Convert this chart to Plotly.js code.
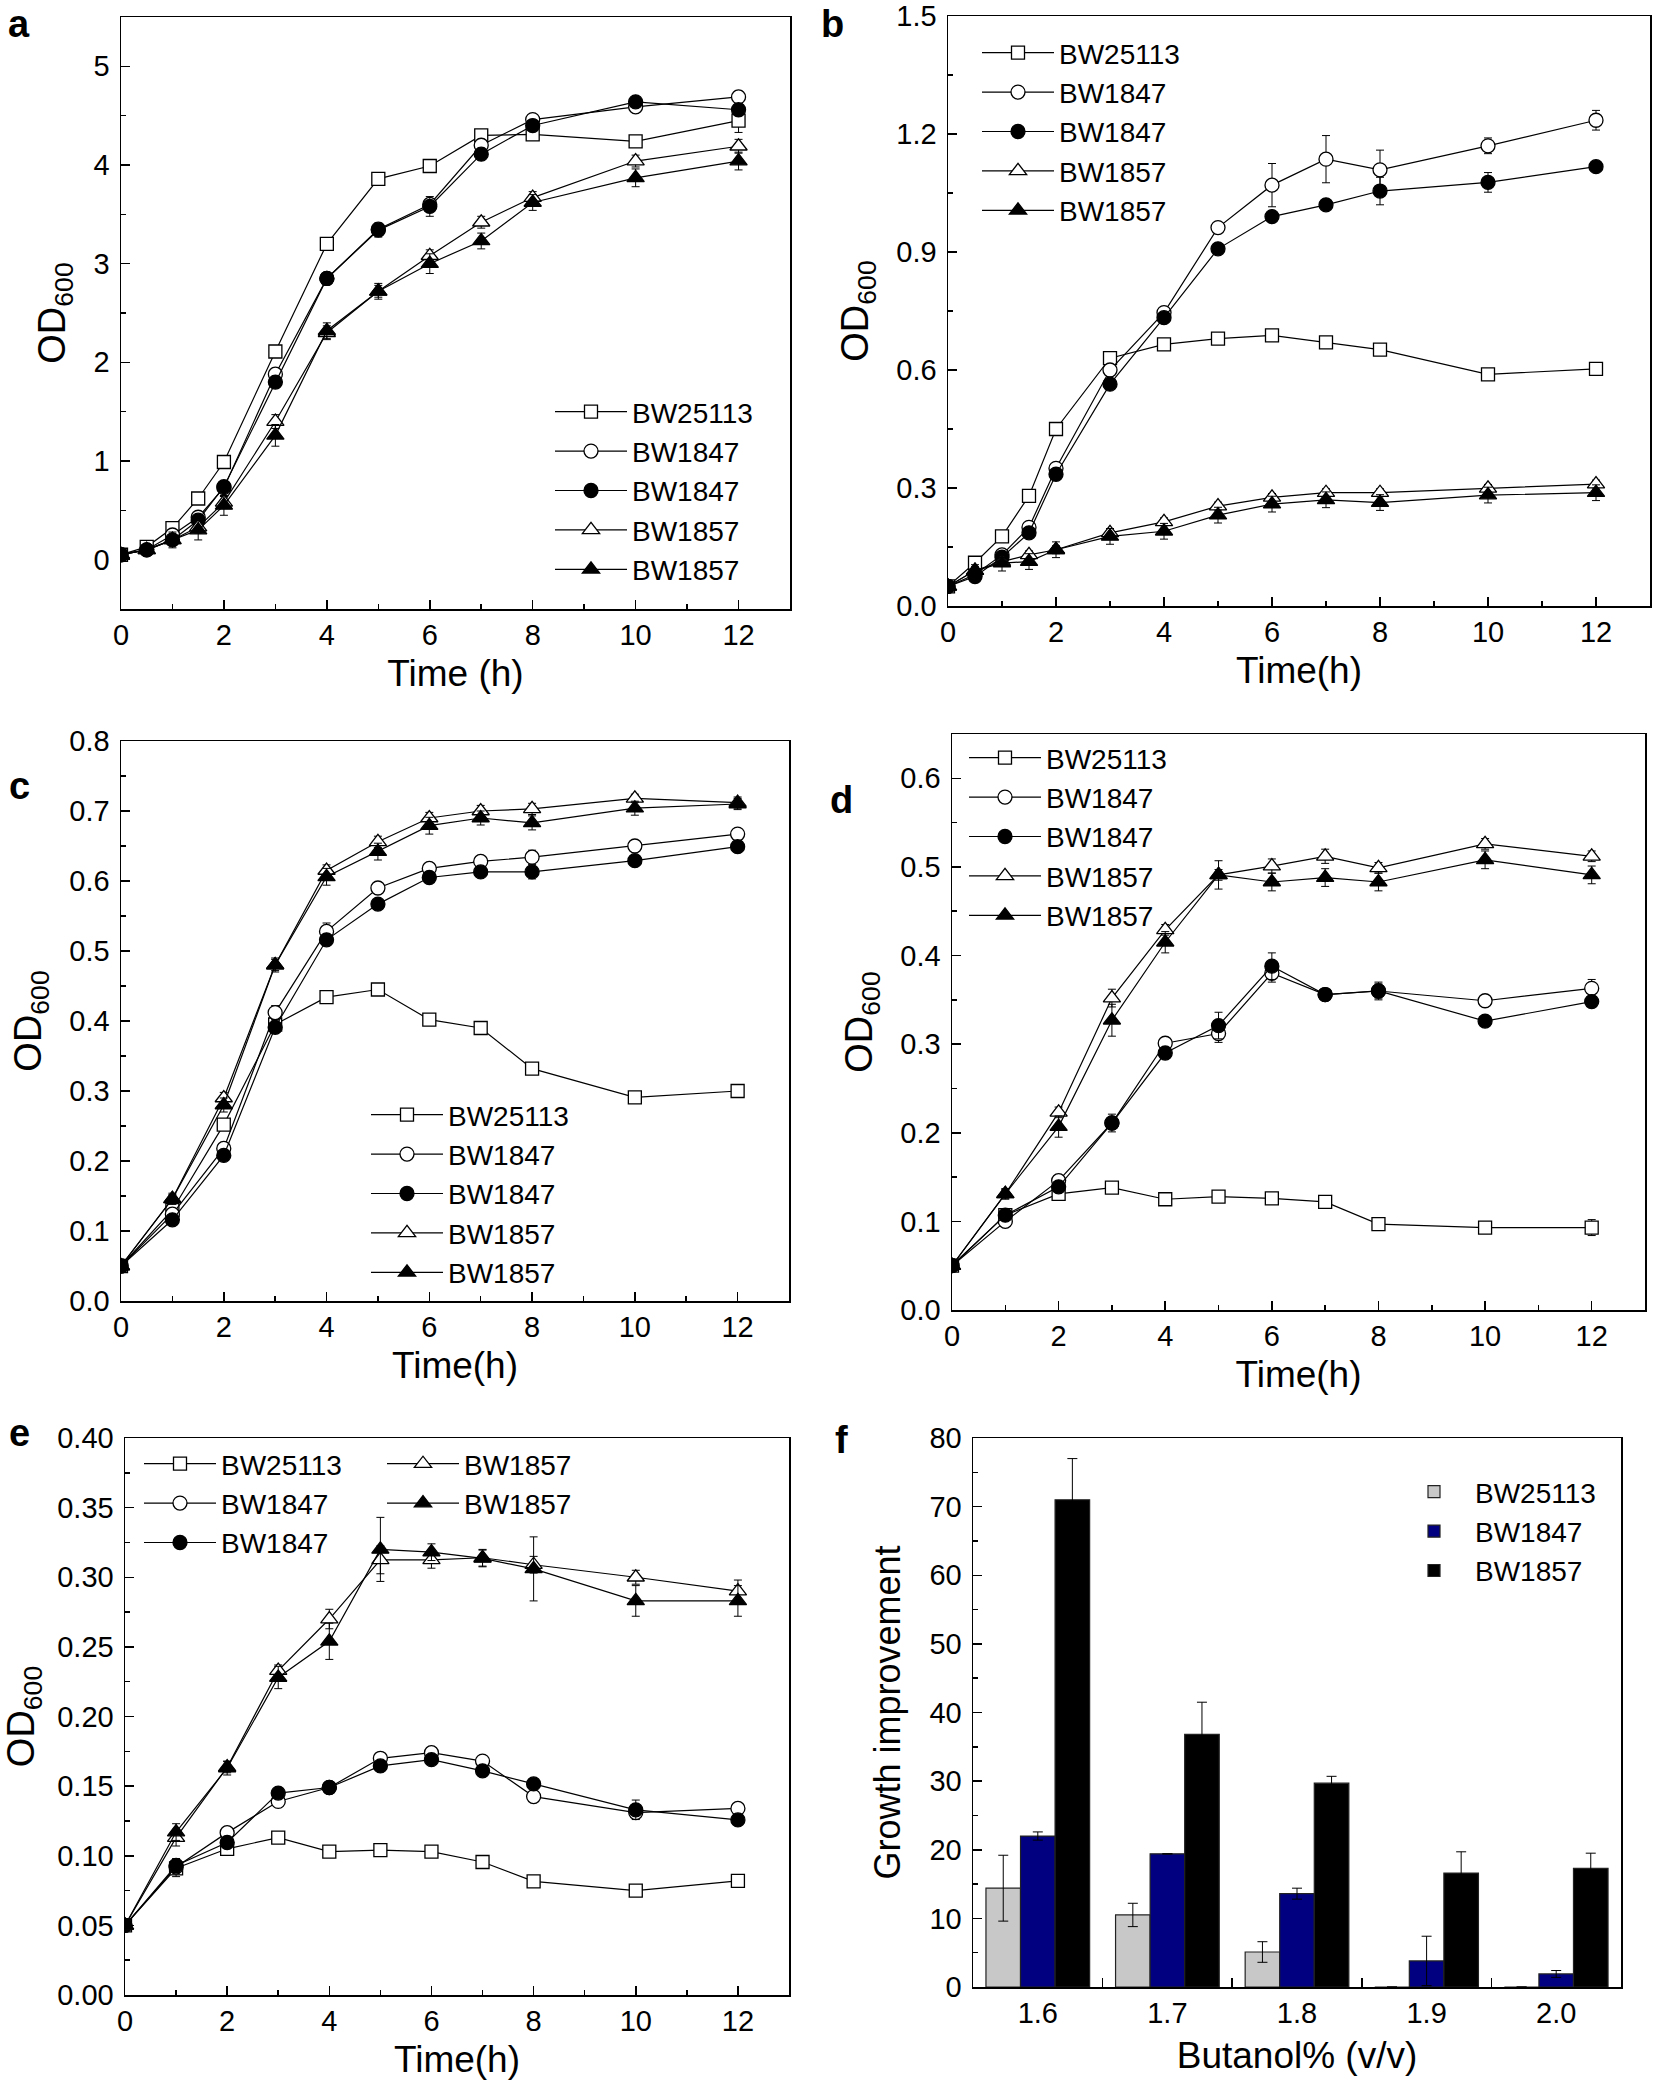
<!DOCTYPE html>
<html><head><meta charset="utf-8">
<script src="https://cdn.plot.ly/plotly-3.0.1.min.js"></script>
<style>body{margin:0;background:#fff}#chart{width:1654px;height:2090px}</style>
</head><body><div id="chart"></div>
<script>
// ---------------- DATA ----------------
const strainNames = ['BW25113','BW1847','BW1847','BW1857','BW1857'];
const timeAB = [0,0.5,1,1.5,2,3,4,5,6,7,8,10,12];
const timeCDE = [0,1,2,3,4,5,6,7,8,10,12];

// panel a
const a_BW25113   = [0.05,0.13,0.32,0.62,0.99,2.11,3.20,3.86,3.99,4.30,4.31,4.24,4.45];
const a_BW1847o   = [0.05,0.10,0.25,0.43,0.73,1.88,2.85,3.35,3.60,4.20,4.46,4.59,4.69];
const a_BW1847f   = [0.05,0.10,0.20,0.40,0.74,1.80,2.85,3.34,3.58,4.11,4.40,4.64,4.56];
const a_BW1857o   = [0.05,0.10,0.20,0.33,0.58,1.40,2.30,2.72,3.08,3.42,3.67,4.04,4.19];
const a_BW1857f   = [0.05,0.10,0.20,0.30,0.55,1.26,2.32,2.72,3.00,3.23,3.62,3.87,4.04];
const a_err_BW25113 = [0.02,0.03,0.05,0.05,0.05,0.06,0.06,0.05,0.05,0.05,0.05,0.05,0.12];
const a_err_BW1847o = [0.02,0.03,0.04,0.05,0.05,0.06,0.05,0.06,0.06,0.06,0.05,0.05,0.06];
const a_err_BW1847f = [0.02,0.03,0.04,0.05,0.05,0.06,0.05,0.07,0.10,0.06,0.05,0.05,0.06];
const a_err_BW1857o = [0.02,0.03,0.05,0.06,0.06,0.07,0.07,0.06,0.06,0.06,0.06,0.06,0.07];
const a_err_BW1857f = [0.02,0.05,0.08,0.10,0.10,0.11,0.08,0.08,0.10,0.08,0.08,0.09,0.09];

// panel b
const b_BW25113   = [0.05,0.11,0.177,0.28,0.45,0.63,0.665,0.68,0.688,0.67,0.652,0.589,0.603];
const b_BW1847o   = [0.05,0.08,0.13,0.20,0.35,0.60,0.746,0.962,1.07,1.136,1.109,1.17,1.235];
const b_BW1847f   = [0.05,0.075,0.124,0.186,0.335,0.564,0.733,0.908,0.99,1.02,1.055,1.077,1.117];
const b_BW1857o   = [0.05,0.09,0.113,0.13,0.143,0.186,0.214,0.254,0.276,0.288,0.288,0.299,0.31];
const b_BW1857f   = [0.05,0.09,0.109,0.113,0.143,0.177,0.19,0.231,0.259,0.27,0.263,0.282,0.288];
const b_err_BW25113 = [0.005,0.01,0.01,0.01,0.01,0.01,0.01,0.01,0.01,0.01,0.01,0.01,0.01];
const b_err_BW1847o = [0.005,0.01,0.01,0.01,0.01,0.01,0.01,0.01,0.055,0.06,0.05,0.02,0.025];
const b_err_BW1847f = [0.005,0.01,0.01,0.01,0.01,0.01,0.01,0.01,0.01,0.01,0.035,0.025,0.01];
const b_err_BW1857o = [0.005,0.01,0.01,0.01,0.01,0.01,0.01,0.01,0.01,0.01,0.01,0.01,0.01];
const b_err_BW1857f = [0.005,0.015,0.02,0.02,0.02,0.02,0.02,0.02,0.02,0.02,0.02,0.02,0.02];

// panel c
const c_BW25113   = [0.05,0.13,0.252,0.395,0.434,0.445,0.402,0.39,0.332,0.291,0.30];
const c_BW1847o   = [0.05,0.124,0.218,0.412,0.528,0.59,0.618,0.628,0.634,0.65,0.667];
const c_BW1847f   = [0.05,0.116,0.208,0.391,0.516,0.567,0.605,0.613,0.613,0.629,0.649];
const c_BW1857o   = [0.05,0.146,0.29,0.48,0.615,0.656,0.69,0.70,0.703,0.718,0.712];
const c_BW1857f   = [0.05,0.146,0.28,0.48,0.606,0.642,0.679,0.69,0.683,0.704,0.71];
const c_err_BW25113 = [0.003,0.006,0.006,0.006,0.006,0.006,0.006,0.008,0.006,0.006,0.006];
const c_err_BW1847o = [0.003,0.006,0.006,0.01,0.012,0.008,0.006,0.006,0.01,0.006,0.006];
const c_err_BW1847f = [0.003,0.006,0.006,0.008,0.008,0.006,0.006,0.006,0.01,0.006,0.008];
const c_err_BW1857o = [0.003,0.006,0.008,0.008,0.008,0.008,0.008,0.008,0.008,0.006,0.008];
const c_err_BW1857f = [0.003,0.008,0.01,0.01,0.012,0.012,0.012,0.01,0.01,0.01,0.008];

// panel d
const d_BW25113   = [0.05,0.107,0.131,0.138,0.125,0.128,0.126,0.122,0.097,0.093,0.093];
const d_BW1847o   = [0.05,0.10,0.146,0.211,0.301,0.312,0.38,0.356,0.36,0.349,0.363];
const d_BW1847f   = [0.05,0.107,0.139,0.211,0.29,0.321,0.388,0.356,0.36,0.326,0.348];
const d_BW1857o   = [0.05,0.131,0.223,0.352,0.429,0.491,0.501,0.512,0.499,0.526,0.512];
const d_BW1857f   = [0.05,0.131,0.207,0.327,0.415,0.491,0.483,0.488,0.483,0.508,0.491];
const d_err_BW25113 = [0.003,0.005,0.005,0.006,0.005,0.005,0.005,0.005,0.005,0.005,0.009];
const d_err_BW1847o = [0.003,0.005,0.006,0.006,0.006,0.01,0.01,0.005,0.008,0.006,0.01];
const d_err_BW1847f = [0.003,0.005,0.006,0.01,0.006,0.015,0.015,0.005,0.01,0.006,0.006];
const d_err_BW1857o = [0.003,0.005,0.006,0.01,0.006,0.006,0.008,0.008,0.006,0.006,0.006];
const d_err_BW1857f = [0.003,0.006,0.012,0.018,0.012,0.016,0.01,0.01,0.01,0.01,0.01];

// panel e
const e_BW25113   = [0.05,0.091,0.105,0.113,0.103,0.104,0.103,0.0955,0.0816,0.075,0.082];
const e_BW1847o   = [0.05,0.092,0.1166,0.139,0.149,0.17,0.174,0.168,0.1425,0.131,0.134];
const e_BW1847f   = [0.05,0.093,0.1095,0.145,0.149,0.1645,0.169,0.161,0.1516,0.133,0.1257];
const e_BW1857o   = [0.05,0.113,0.1636,0.233,0.27,0.3125,0.3125,0.314,0.309,0.30,0.29];
const e_BW1857f   = [0.05,0.117,0.163,0.228,0.254,0.32,0.318,0.3135,0.306,0.283,0.283];
const e_err_BW25113 = [0.002,0.006,0.003,0.003,0.003,0.002,0.003,0.003,0.003,0.003,0.003];
const e_err_BW1847o = [0.002,0.005,0.004,0.004,0.003,0.003,0.003,0.003,0.003,0.004,0.004];
const e_err_BW1847f = [0.002,0.005,0.004,0.004,0.003,0.003,0.003,0.003,0.003,0.007,0.004];
const e_err_BW1857o = [0.002,0.006,0.004,0.004,0.007,0.01,0.006,0.006,0.006,0.005,0.008];
const e_err_BW1857f = [0.002,0.006,0.005,0.008,0.013,0.023,0.006,0.006,0.023,0.011,0.011];

// panel f
const butanolLevels = ['1.6','1.7','1.8','1.9','2.0'];
const barStrains = ['BW25113','BW1847','BW1857'];
const f_BW25113 = [14.4,10.5,5.1,0,0];
const f_BW1847  = [22.0,19.4,13.6,3.8,1.9];
const f_BW1857  = [71.0,36.8,29.7,16.6,17.3];
const f_err_BW25113 = [4.8,1.7,1.5,0,0];
const f_err_BW1847  = [0.6,0,0.8,3.6,0.5];
const f_err_BW1857  = [6.0,4.7,1.0,3.1,2.2];

// ---------------- LAYOUT / STYLE ----------------
const W = 1654, H = 2090;
const FONT = 'Liberation Sans, Arial, sans-serif';
const TICKSZ = 29, TITLESZ = 37, LEGSZ = 28, YTITLESZ = 38;
const LEG_ITEMW = 72;
const LEG_TEXT_OFFSET = LEG_ITEMW + 10;
function dx(l, r) { return [l / W, r / W]; }
function dy(t, b) { return [1 - b / H, 1 - t / H]; }

const markerStyles = [
  {symbol:'square', color:'white', size:13},
  {symbol:'circle', color:'white', size:14},
  {symbol:'circle', color:'black', size:14},
  {symbol:'triangle-up', color:'white', size:15},
  {symbol:'triangle-up', color:'black', size:15}
];

function lineTraces(xs, ysList, errList, ax, legends, tag) {
  return ysList.map((ys, i) => ({
    type:'scatter', mode:'lines+markers', x:xs, y:ys, name:strainNames[i],
    xaxis:'x' + ax, yaxis:'y' + ax, legend:legends[i], legendgroup: tag + i,
    line:{color:'black', width:1.2},
    marker:{symbol:markerStyles[i].symbol, color:markerStyles[i].color, size:markerStyles[i].size,
            line:{color:'black', width:1.3}},
    error_y:{type:'data', array:errList[i], visible:true, color:'black', thickness:1, width:4}
  }));
}

let traces = [];
traces = traces.concat(lineTraces(timeAB, [a_BW25113,a_BW1847o,a_BW1847f,a_BW1857o,a_BW1857f],
  [a_err_BW25113,a_err_BW1847o,a_err_BW1847f,a_err_BW1857o,a_err_BW1857f], '', ['legend','legend','legend','legend','legend'], 'a'));
traces = traces.concat(lineTraces(timeAB, [b_BW25113,b_BW1847o,b_BW1847f,b_BW1857o,b_BW1857f],
  [b_err_BW25113,b_err_BW1847o,b_err_BW1847f,b_err_BW1857o,b_err_BW1857f], '2', ['legend2','legend2','legend2','legend2','legend2'], 'b'));
traces = traces.concat(lineTraces(timeCDE, [c_BW25113,c_BW1847o,c_BW1847f,c_BW1857o,c_BW1857f],
  [c_err_BW25113,c_err_BW1847o,c_err_BW1847f,c_err_BW1857o,c_err_BW1857f], '3', ['legend3','legend3','legend3','legend3','legend3'], 'c'));
traces = traces.concat(lineTraces(timeCDE, [d_BW25113,d_BW1847o,d_BW1847f,d_BW1857o,d_BW1857f],
  [d_err_BW25113,d_err_BW1847o,d_err_BW1847f,d_err_BW1857o,d_err_BW1857f], '4', ['legend4','legend4','legend4','legend4','legend4'], 'd'));
traces = traces.concat(lineTraces(timeCDE, [e_BW25113,e_BW1847o,e_BW1847f,e_BW1857o,e_BW1857f],
  [e_err_BW25113,e_err_BW1847o,e_err_BW1847f,e_err_BW1857o,e_err_BW1857f], '5', ['legend5','legend5','legend5','legend6','legend6'], 'e'));

const barColors = ['#c8c8c8', '#000080', '#000000'];
const barVals = [f_BW25113, f_BW1847, f_BW1857];
const barErrs = [f_err_BW25113, f_err_BW1847, f_err_BW1857];
barVals.forEach((v, i) => {
  traces.push({
    type:'bar', x:butanolLevels, y:v, name:barStrains[i], xaxis:'x6', yaxis:'y6', legend:'legend7',
    legendgroup:'f' + i,
    marker:{color:barColors[i], line:{color:'#222', width:1.2}},
    error_y:{type:'data', array:barErrs[i], visible:true, color:'black', thickness:1, width:5}
  });
});

function xax(domain, anchor, range, title, extra) {
  return Object.assign({
    domain:domain, anchor:anchor, range:range, dtick:2, tick0:0,
    showline:true, linecolor:'black', linewidth:1.5, mirror:true,
    ticks:'inside', ticklen:9, tickwidth:1.5, tickcolor:'black',
    minor:{ticks:'inside', ticklen:5, tickwidth:1.5, tickcolor:'black', dtick:1, showgrid:false},
    showgrid:false, zeroline:false, automargin:false,
    tickfont:{family:FONT, size:TICKSZ, color:'black'},
    title:{text:title, font:{family:FONT, size:TITLESZ, color:'black'}, standoff:10}
  }, extra || {});
}
function yax(domain, anchor, range, dtick, minorD, fmt, title, extra) {
  return Object.assign({
    domain:domain, anchor:anchor, range:range, dtick:dtick, tick0:0, tickformat:fmt,
    showline:true, linecolor:'black', linewidth:1.5, mirror:true,
    ticks:'inside', ticklen:9, tickwidth:1.5, tickcolor:'black',
    minor:{ticks:'inside', ticklen:5, tickwidth:1.5, tickcolor:'black', dtick:minorD, showgrid:false},
    showgrid:false, zeroline:false, automargin:false, ticklabelstandoff:4,
    tickfont:{family:FONT, size:TICKSZ, color:'black'},
    title:{text:title, font:{family:FONT, size:YTITLESZ, color:'black'}, standoff:16}
  }, extra || {});
}
const OD = 'OD<sub>600</sub>';

// legend placed by where its text starts (px) and its top (px)
function leg(textXpx, topPx) {
  return {x:(textXpx - LEG_TEXT_OFFSET) / W, y:1 - topPx / H, xanchor:'left', yanchor:'top', bgcolor:'rgba(0,0,0,0)',
          font:{family:FONT, size:LEGSZ, color:'black'}, traceorder:'grouped', tracegroupgap:0,
          itemclick:false, itemwidth:LEG_ITEMW};
}

const layout = {
  width:W, height:H, margin:{l:0, r:0, t:0, b:0},
  paper_bgcolor:'white', plot_bgcolor:'white',
  font:{family:FONT, color:'black'},
  showlegend:true, barmode:'group', bargap:0.2, bargroupgap:0,
  xaxis:  xax(dx(121, 790), 'y',  [0, 13],   'Time (h)'),
  yaxis:  yax(dy(17, 609),  'x',  [-0.5, 5.5], 1, 0.5, 'd', OD),
  xaxis2: xax(dx(948, 1650), 'y2', [0, 13], 'Time(h)'),
  yaxis2: yax(dy(16, 606),  'x2', [0, 1.5], 0.3, 0.15, '.1f', OD),
  xaxis3: xax(dx(121, 789), 'y3', [0, 13],   'Time(h)'),
  yaxis3: yax(dy(741, 1301), 'x3', [0, 0.8], 0.1, 0.05, '.1f', OD),
  xaxis4: xax(dx(952, 1645), 'y4', [0, 13],  'Time(h)'),
  yaxis4: yax(dy(734, 1310), 'x4', [0, 0.65], 0.1, 0.05, '.1f', OD),
  xaxis5: xax(dx(125, 789), 'y5', [0, 13],   'Time(h)'),
  yaxis5: yax(dy(1438, 1995), 'x5', [0, 0.40], 0.05, 0.025, '.2f', OD),
  xaxis6: {domain:dx(973, 1621), anchor:'y6', type:'category', range:[-0.5, 4.5],
    showline:true, linecolor:'black', linewidth:1.5, mirror:true,
    ticks:'inside', ticklen:9, tickwidth:1.5, tickcolor:'black', tickson:'boundaries',
    showgrid:false, zeroline:false, automargin:false,
    tickfont:{family:FONT, size:TICKSZ, color:'black'},
    title:{text:'Butanol% (v/v)', font:{family:FONT, size:TITLESZ, color:'black'}, standoff:14}},
  yaxis6: yax(dy(1438, 1987), 'x6', [0, 80], 10, 5, 'd', 'Growth improvement', {title:{text:'Growth improvement', font:{family:FONT, size:YTITLESZ - 2, color:'black'}, standoff:18}}),
  legend:  leg(632, 387),
  legend2: leg(1059, 28),
  legend3: leg(448, 1090),
  legend4: leg(1046, 733),
  legend5: leg(221, 1439),
  legend6: leg(464, 1439),
  legend7: leg(1475, 1467),
  annotations: [
    ['a', 19, 24], ['b', 833, 24], ['c', 19, 786], ['d', 842, 800], ['e', 19, 1433], ['f', 842, 1440]
  ].map(p => ({text:'<b>' + p[0] + '</b>', xref:'paper', yref:'paper', x:p[1] / W, y:1 - p[2] / H,
    xanchor:'center', yanchor:'middle', showarrow:false, font:{family:FONT, size:38, color:'black'}}))
};

Plotly.newPlot('chart', traces, layout, {displayModeBar:false, staticPlot:true});
</script>
</body></html>
